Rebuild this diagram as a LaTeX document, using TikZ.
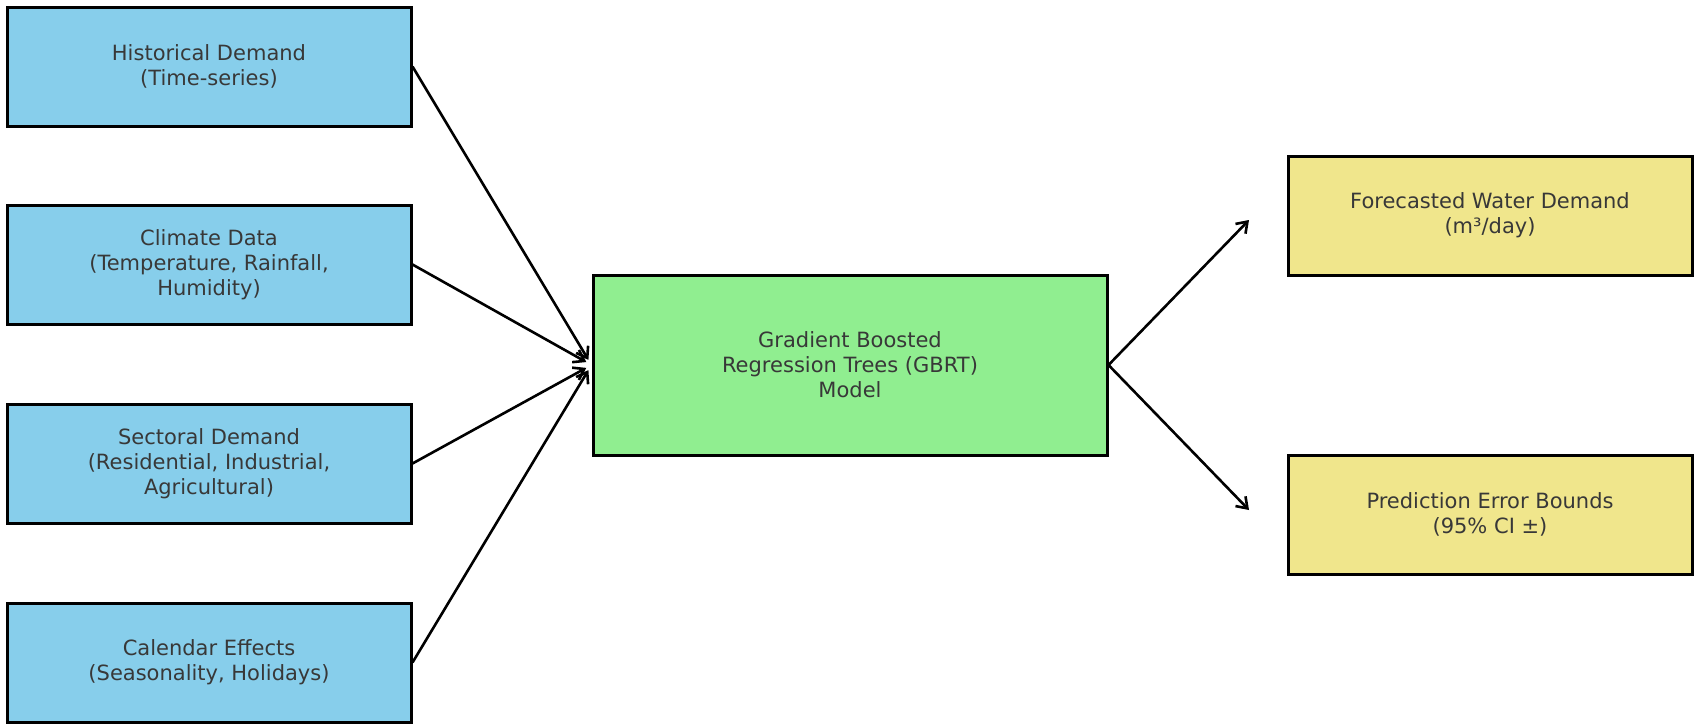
\documentclass[tikz,border=0pt]{standalone}
\usepackage{fontspec}
\setmainfont{DejaVu Sans}
\usetikzlibrary{arrows.meta}
\definecolor{inbox}{HTML}{87CEEB}
\definecolor{modelbox}{HTML}{90EE90}
\definecolor{outbox}{HTML}{F0E68C}
\definecolor{txt}{HTML}{383838}
\begin{document}
\begin{tikzpicture}[x=1pt,y=-1pt,
  box/.style={draw=black, line width=3pt, rectangle, inner sep=0pt, align=center,
    text=txt, font=\fontsize{21}{25}\selectfont},
  inputbox/.style={box, fill=inbox, minimum width=404pt, minimum height=119pt},
  modelnode/.style={box, fill=modelbox, minimum width=514pt, minimum height=180pt},
  outputbox/.style={box, fill=outbox, minimum width=404pt, minimum height=119pt},
  conn/.style={line width=2.6pt, -{Straight Barb[length=10pt,width=14pt,line width=2.6pt]}}]
\useasboundingbox (0,0) rectangle (1700,728);
\node[inputbox] (hist) at (209,66.5) {Historical Demand\\(Time-series)};
\node[inputbox] (clim) at (209,264.5) {Climate Data\\(Temperature, Rainfall,\\Humidity)};
\node[inputbox] (sect) at (209,463.5) {Sectoral Demand\\(Residential, Industrial,\\Agricultural)};
\node[inputbox] (cal) at (209,662.5) {Calendar Effects\\(Seasonality, Holidays)};
\node[modelnode] (gbrt) at (850,365) {Gradient Boosted\\Regression Trees (GBRT)\\Model};
\node[outputbox] (fc) at (1490,215.5) {Forecasted Water Demand\\(m³/day)};
\node[outputbox] (err) at (1490,514.5) {Prediction Error Bounds\\(95\% CI ±)};
\coordinate (fcend) at (1249,220);
\coordinate (errend) at (1249,510);
\foreach \n in {hist,clim,sect,cal}
  \draw[conn, shorten >=6pt] (\n.east) -- (gbrt.west);
\draw[conn] (gbrt.east) -- (fcend);
\draw[conn] (gbrt.east) -- (errend);
\end{tikzpicture}
\end{document}
